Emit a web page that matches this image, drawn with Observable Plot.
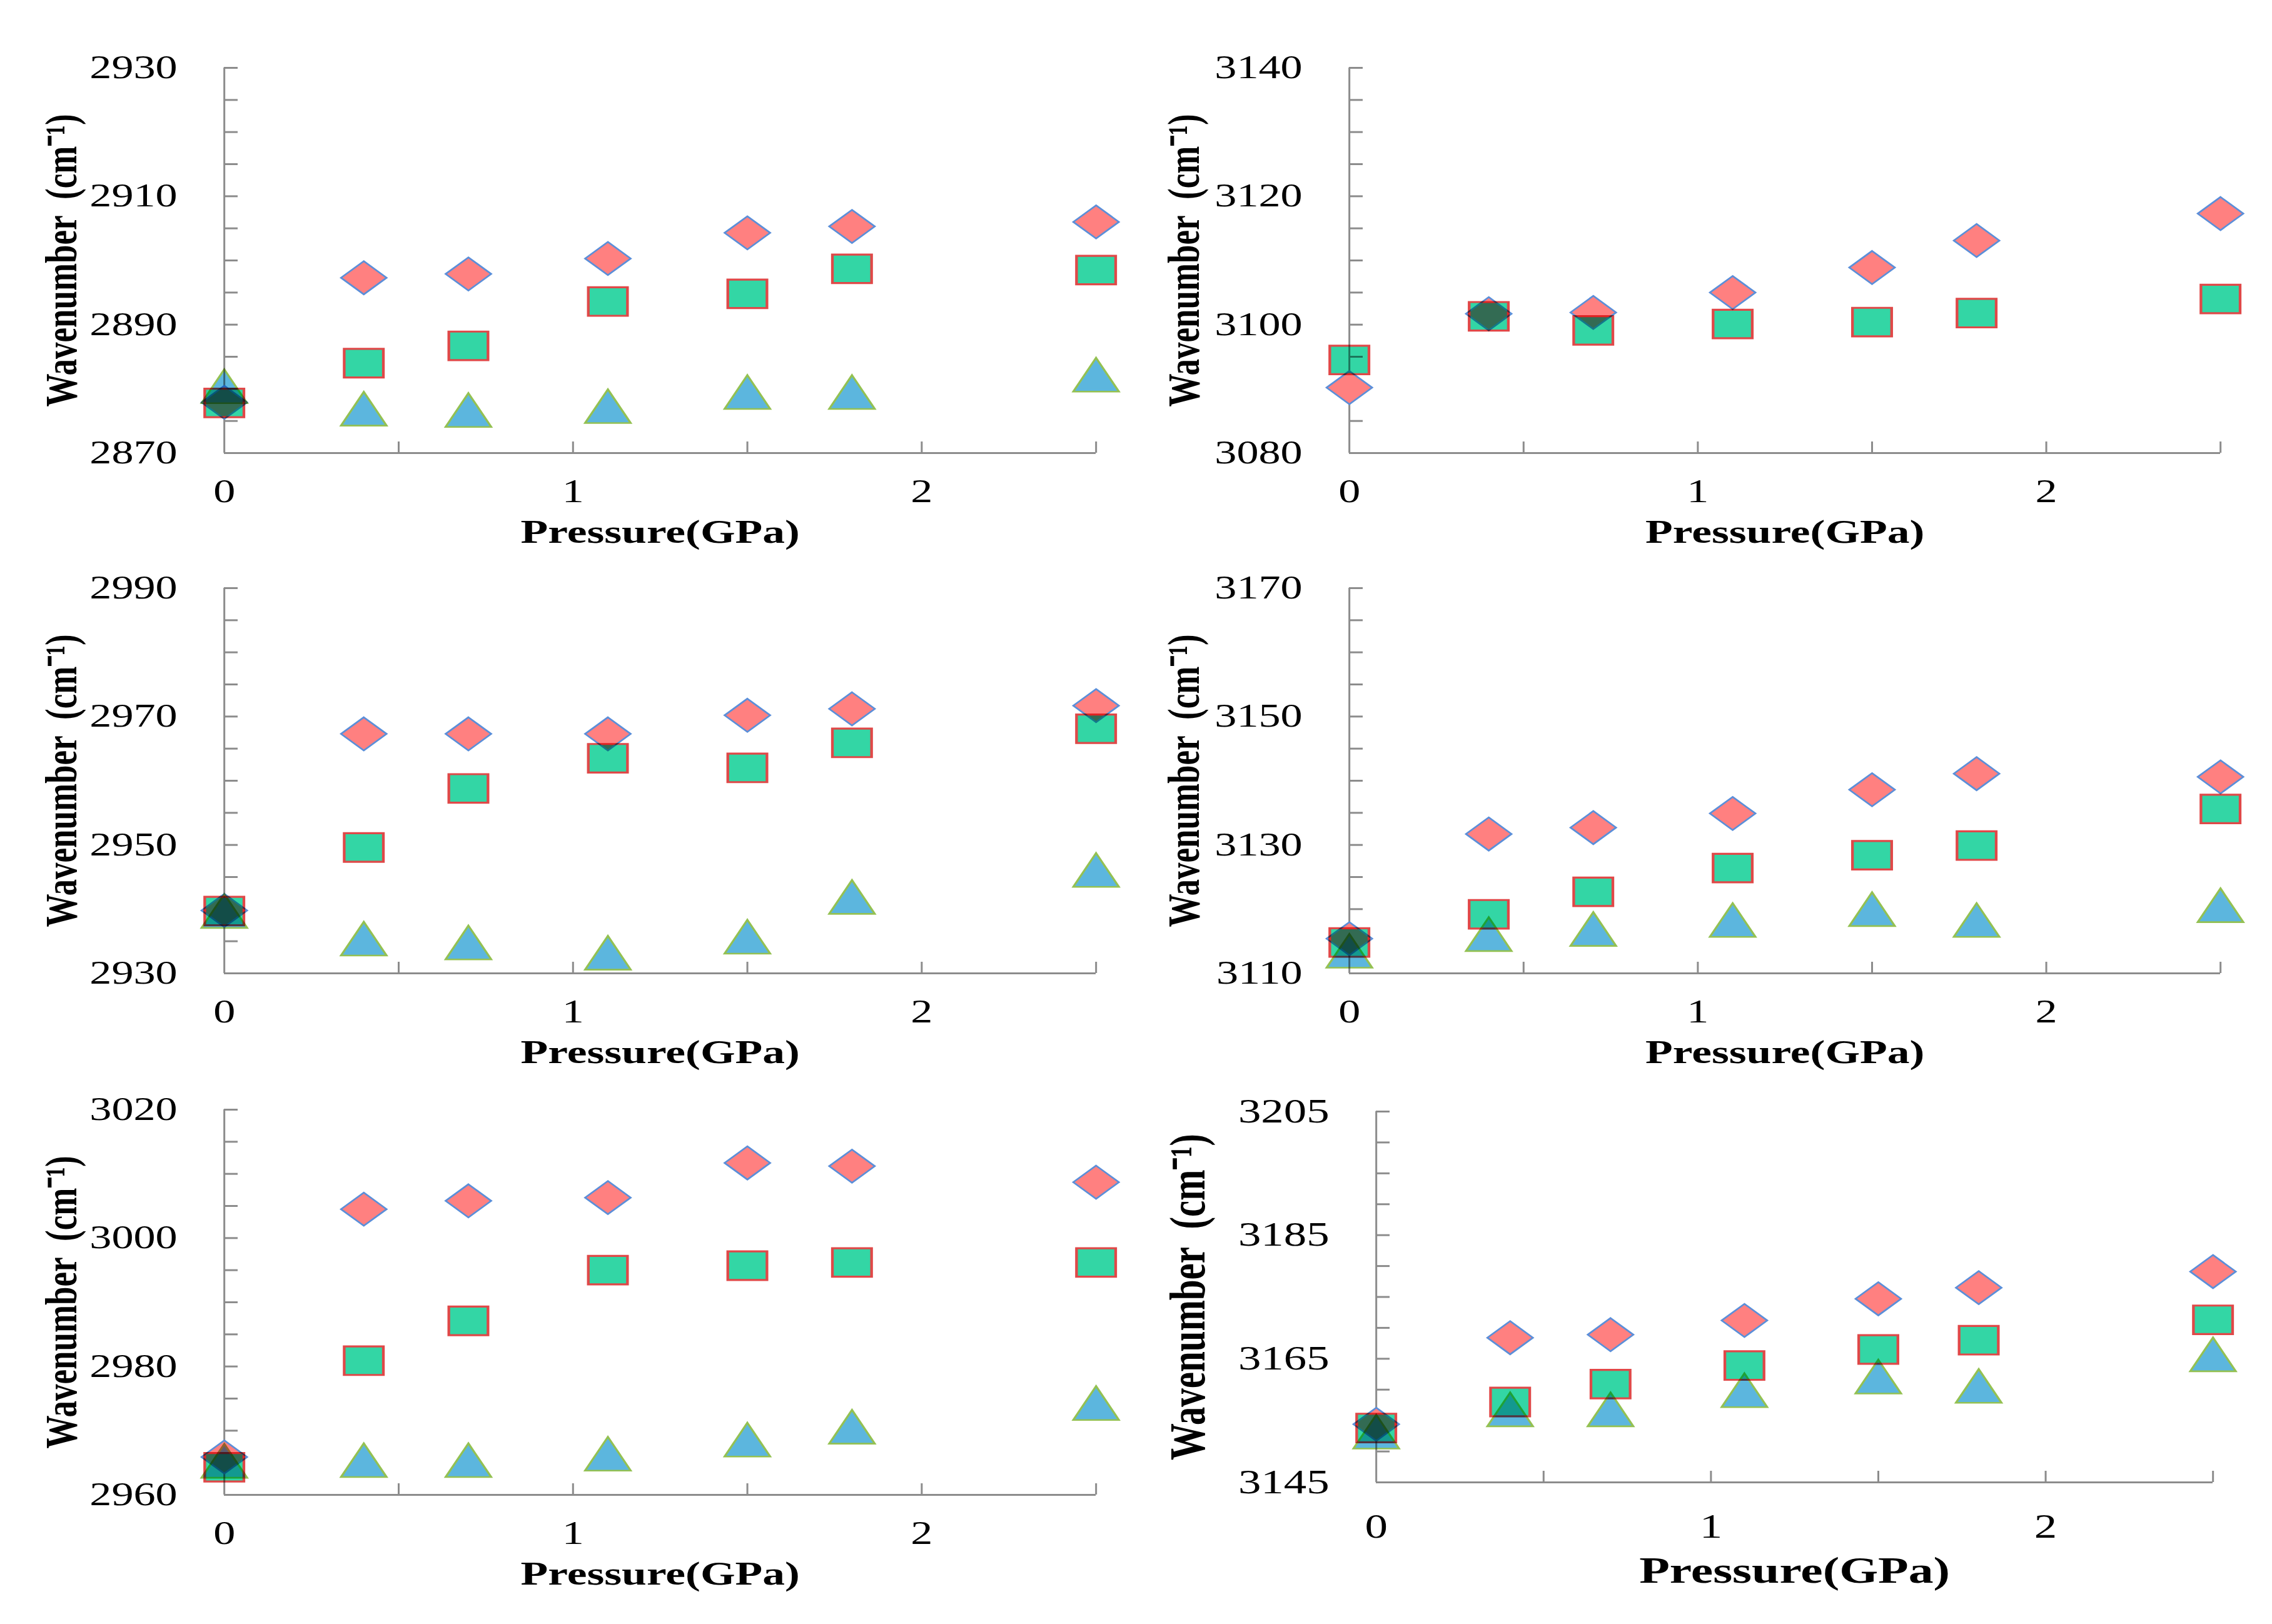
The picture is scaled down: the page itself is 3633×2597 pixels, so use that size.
<!DOCTYPE html>
<html>
<head>
<meta charset="utf-8">
<script src="https://cdn.jsdelivr.net/npm/d3@7"></script>
<script src="https://cdn.jsdelivr.net/npm/@observablehq/plot@0.6"></script>
<style>
html, body { margin: 0; padding: 0; background: #fff; }
#page { position: relative; width: 3633px; height: 2597px; overflow: hidden; background: #fff; }
.panel { position: absolute; }
.panel svg { display: block; max-width: none; }
</style>
</head>
<body>
<div id="page"></div>
<script>
// ---------------- data ----------------
const pressure = [0, 0.4, 0.7, 1.1, 1.5, 1.8, 2.5];
const xTickLabels = [0, 1, 2];
const xMinorTicks = [0.5, 1, 1.5, 2, 2.5];
const xTitle = "Pressure(GPa)";
const yTitle = "Wavenumber  (cm\u207B\u00B9)";

// panel 1 (top left)
const p1Domain = [2870, 2930];
const p1Labels = [2870, 2890, 2910, 2930];
const p1Diamond = [2877.9, 2897.3, 2897.9, 2900.3, 2904.3, 2905.3, 2906.0];
const p1Square = [2877.8, 2884.0, 2886.7, 2893.6, 2894.8, 2898.7, 2898.5];
const p1Triangle = [2880.4, 2876.9, 2876.7, 2877.3, 2879.5, 2879.5, 2882.2];

// panel 2 (top right)
const p2Domain = [3080, 3140];
const p2Labels = [3080, 3100, 3120, 3140];
const p2Diamond = [3090.2, 3101.7, 3101.9, 3105.0, 3108.9, 3113.1, 3117.3];
const p2Square = [3094.5, 3101.3, 3099.1, 3100.1, 3100.4, 3101.8, 3104.0];
const p2Triangle = null;

// panel 3 (middle left)
const p3Domain = [2930, 2990];
const p3Labels = [2930, 2950, 2970, 2990];
const p3Diamond = [2939.8, 2967.3, 2967.3, 2967.3, 2970.2, 2971.2, 2971.7];
const p3Square = [2939.7, 2949.6, 2958.8, 2963.5, 2962.0, 2965.9, 2968.1];
const p3Triangle = [2939.7, 2935.4, 2934.8, 2933.2, 2935.7, 2941.9, 2946.1];

// panel 4 (middle right)
const p4Domain = [3110, 3170];
const p4Labels = [3110, 3130, 3150, 3170];
const p4Diamond = [3115.4, 3131.7, 3132.7, 3134.9, 3138.6, 3141.1, 3140.6];
const p4Square = [3114.8, 3119.2, 3122.7, 3126.4, 3128.4, 3129.9, 3135.6];
const p4Triangle = [3113.5, 3116.1, 3116.9, 3118.3, 3120.0, 3118.3, 3120.6];

// panel 5 (bottom left)
const p5Domain = [2960, 3020];
const p5Labels = [2960, 2980, 3000, 3020];
const p5Diamond = [2965.9, 3004.5, 3005.8, 3006.3, 3011.7, 3011.2, 3008.7];
const p5Square = [2964.3, 2980.9, 2987.1, 2995.0, 2995.7, 2996.2, 2996.2];
const p5Triangle = [2965.3, 2965.4, 2965.4, 2966.4, 2968.6, 2970.6, 2974.3];

// panel 6 (bottom right)
const p6Domain = [3145, 3205];
const p6Labels = [3145, 3165, 3185, 3205];
const p6Diamond = [3154.4, 3168.4, 3168.9, 3171.2, 3174.7, 3176.5, 3179.1];
const p6Square = [3153.8, 3158.0, 3160.9, 3163.9, 3166.5, 3168.0, 3171.3];
const p6Triangle = [3153.2, 3156.8, 3156.8, 3159.9, 3162.1, 3160.6, 3165.7];

// ---------------- layout (physical page pixels) ----------------
const S = 1.35; // the original figure is stretched horizontally
const layout = [
  {left: 0,    top: 0,    width: 1816, height: 880, x0: 358,  x1: 1752, y0: 108,  y1: 724,  tick: 52, title: 53, xt: 53, titleX: 98,   xtDy: 127, xlPad: 42},
  {left: 1816, top: 0,    width: 1817, height: 880, x0: 2157, x1: 3550, y0: 108,  y1: 724,  tick: 52, title: 53, xt: 53, titleX: 1893, xtDy: 127, xlPad: 42},
  {left: 0,    top: 880,  width: 1816, height: 840, x0: 358,  x1: 1752, y0: 940,  y1: 1556, tick: 52, title: 53, xt: 53, titleX: 98,   xtDy: 127, xlPad: 42},
  {left: 1816, top: 880,  width: 1817, height: 840, x0: 2157, x1: 3550, y0: 940,  y1: 1556, tick: 52, title: 53, xt: 53, titleX: 1893, xtDy: 127, xlPad: 42},
  {left: 0,    top: 1720, width: 1816, height: 877, x0: 358,  x1: 1752, y0: 1774, y1: 2390, tick: 52, title: 53, xt: 53, titleX: 98,   xtDy: 127, xlPad: 42},
  {left: 1816, top: 1720, width: 1817, height: 877, x0: 2200, x1: 3538, y0: 1777, y1: 2370, tick: 54, title: 59, xt: 59, titleX: 1900, xtDy: 142, xlPad: 50}
];
const panelData = [
  [p1Domain, p1Labels, p1Diamond, p1Square, p1Triangle],
  [p2Domain, p2Labels, p2Diamond, p2Square, p2Triangle],
  [p3Domain, p3Labels, p3Diamond, p3Square, p3Triangle],
  [p4Domain, p4Labels, p4Diamond, p4Square, p4Triangle],
  [p5Domain, p5Labels, p5Diamond, p5Square, p5Triangle],
  [p6Domain, p6Labels, p6Diamond, p6Square, p6Triangle]
];

// ---------------- symbols (logical units, r = 1) ----------------
const diamondSym = {draw(ctx, size) { const k = Math.sqrt(size / Math.PI);
  ctx.moveTo(0, -26.5 * k); ctx.lineTo(27 * k, 0); ctx.lineTo(0, 26.5 * k); ctx.lineTo(-27 * k, 0); ctx.closePath(); }};
const squareSym = {draw(ctx, size) { const k = Math.sqrt(size / Math.PI);
  ctx.moveTo(-23.2 * k, -22.8 * k); ctx.lineTo(23.2 * k, -22.8 * k); ctx.lineTo(23.2 * k, 22.8 * k); ctx.lineTo(-23.2 * k, 22.8 * k); ctx.closePath(); }};
const triangleSym = {draw(ctx, size) { const k = Math.sqrt(size / Math.PI);
  ctx.moveTo(0, -27 * k); ctx.lineTo(27 * k, 27 * k); ctx.lineTo(-27 * k, 27 * k); ctx.closePath(); }};

const axisGray = "#8c8c8c";
const font = "'Liberation Serif', 'Times New Roman', Times, serif";
const fmt = d => String(d);

function rows(values) {
  return values ? pressure.map((p, i) => ({p, v: values[i]})) : [];
}

const page = document.getElementById("page");
layout.forEach((L, idx) => {
  const [domain, labels, dia, sq, tri] = panelData[idx];
  const minor = d3.range(domain[0] + 5, domain[1] + 0.001, 5);
  const W = L.width / S;
  const plot = Plot.plot({
    width: W,
    height: L.height,
    marginLeft: (L.x0 - L.left) / S,
    marginRight: (L.left + L.width - L.x1) / S,
    marginTop: L.y0 - L.top,
    marginBottom: L.top + L.height - L.y1,
    x: {domain: [0, 2.5]},
    y: {domain: domain},
    style: {fontFamily: font, color: "#000", background: "transparent", overflow: "visible"},
    marks: [
      Plot.axisY({ticks: minor, tickSize: -22 / S, stroke: axisGray, strokeWidth: 3, fill: "none", label: null}),
      Plot.axisY({ticks: labels, tickFormat: fmt, tickSize: 0, tickPadding: 75 / S, fontSize: L.tick, fontFamily: font, fill: "#000", label: null}),
      Plot.axisX({ticks: xMinorTicks, tickSize: -18, stroke: axisGray, strokeWidth: 3 / S, fill: "none", label: null}),
      Plot.axisX({ticks: xTickLabels, tickFormat: fmt, tickSize: 0, tickPadding: L.xlPad, fontSize: L.tick, fontFamily: font, fill: "#000", label: null}),
      Plot.ruleX([0], {stroke: axisGray, strokeWidth: 3 / S}),
      Plot.ruleY([domain[0]], {stroke: axisGray, strokeWidth: 3}),
      Plot.dot(rows(dia), {x: "p", y: "v", symbol: diamondSym, r: 1, fill: "#ff8080", stroke: "#5b8fd9", strokeWidth: 2.4}),
      Plot.dot(rows(sq), {x: "p", y: "v", symbol: squareSym, r: 1, fill: "#33d6a5", stroke: "#e04848", strokeWidth: 3.2, mixBlendMode: "multiply"}),
      Plot.dot(rows(tri), {x: "p", y: "v", symbol: triangleSym, r: 1, fill: "#5cb6de", stroke: "#94c152", strokeWidth: 2.6, mixBlendMode: "multiply"}),
      Plot.text([yTitle], {text: d => d, frameAnchor: "left", textAnchor: "middle", lineAnchor: "middle", rotate: -90, dx: (L.titleX - L.x0) / S, fontSize: L.title, fontWeight: "bold", fontFamily: font, fill: "#000"}),
      Plot.text([xTitle], {text: d => d, frameAnchor: "bottom", textAnchor: "middle", lineAnchor: "middle", dy: L.xtDy, fontSize: L.xt, fontWeight: "bold", fontFamily: font, fill: "#000"})
    ]
  });
  plot.setAttribute("preserveAspectRatio", "none");
  plot.setAttribute("width", L.width);
  plot.setAttribute("height", L.height);
  plot.style.width = L.width + "px";
  plot.style.height = L.height + "px";
  plot.style.maxWidth = "none";
  const div = document.createElement("div");
  div.className = "panel";
  div.style.left = L.left + "px";
  div.style.top = L.top + "px";
  div.style.width = L.width + "px";
  div.style.height = L.height + "px";
  div.appendChild(plot);
  page.appendChild(div);
});
</script>
</body>
</html>
